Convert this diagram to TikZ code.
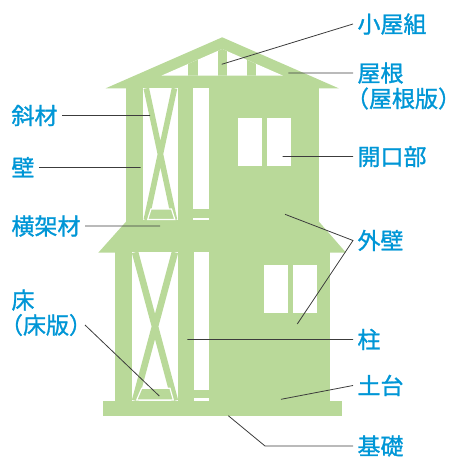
\documentclass[tikz,border=0pt]{standalone}
\usepackage{fontspec}
\usepackage{tikz}
\usetikzlibrary{positioning}
\newfontfamily\jpfont[FakeBold=1.2]{Noto Sans CJK JP}
\definecolor{wood}{RGB}{185,217,153}
\definecolor{tagblue}{RGB}{0,150,214}
\definecolor{leader}{RGB}{60,60,60}

\tikzset{
    part/.style={font=\jpfont\fontsize{23}{27}\selectfont, text=tagblue,
        inner sep=2pt, outer sep=2.5pt, text height=19.1pt, text depth=1.6pt},
    lead/.style={draw=leader, line width=0.8pt},
    brace/.style={draw=wood, line width=6.6pt},
    plate/.style={fill=wood, draw=white, line width=1.2pt},
}

\begin{document}
\begin{tikzpicture}[x=1pt, y=-1pt]
    \useasboundingbox (0,0) rectangle (448,457);

    % frame body
    \fill[wood] (105.7,88.3) -- (222.2,37.3) -- (338.7,88.3) -- cycle;
    \fill[wood] (126,88) rectangle (319,222);
    \fill[wood] (126,221.7) -- (319,221.7) -- (346,252.7) -- (98.3,252.7) -- cycle;
    \fill[wood] (115,252) rectangle (330,401);
    \fill[wood] (103.3,400.7) rectangle (341.7,415.7);

    % roof truss
    \begin{scope}
        \clip (161.3,75.7) -- (222.2,49) -- (283.1,75.7) -- cycle;
        \fill[white] (150,40) rectangle (300,76);
        \foreach \x in {193,222.2,251.4}
            \fill[wood] (\x-4.7,40) rectangle (\x+4.7,76);
    \end{scope}

    % upper floor
    \fill[white] (143.3,88.3) rectangle (177.5,220);
    \begin{scope}
        \clip (143.3,88.3) rectangle (177.5,220);
        \draw[brace, line width=5.6pt] (146.3,88.3) -- (174.5,220) (174.5,88.3) -- (146.3,220);
    \end{scope}
    \filldraw[plate] (147.7,219.4) -- (151,209) -- (171.5,209) -- (174.8,219.4) -- cycle;
    \fill[white] (193.3,88.3) rectangle (209,220);
    \fill[wood] (193.3,209) rectangle (209,218.3);
    \fill[white] (237.7,117.7) rectangle (261.7,166);
    \fill[white] (267,117.7) rectangle (291,166);

    % lower floor
    \fill[white] (131.7,252.3) rectangle (178.3,400.7);
    \begin{scope}
        \clip (131.7,252.3) rectangle (178.3,400.7);
        \draw[brace] (135.1,252.3) -- (174.9,400.7) (174.9,252.3) -- (135.1,400.7);
    \end{scope}
    \filldraw[plate] (136.7,400) -- (141.7,388.3) -- (170,388.3) -- (173.3,400) -- cycle;
    \fill[white] (194,252.3) rectangle (209.3,400.7);
    \fill[wood] (194,390) rectangle (209.3,398.3);
    \fill[white] (264,265) rectangle (288.3,312.7);
    \fill[white] (293,265) rectangle (317,312.7);

    % points on the frame
    \coordinate (truss) at (221.7,64.3);
    \coordinate (roof) at (288.3,73);
    \coordinate (window) at (282.7,156.5);
    \coordinate (wallup) at (285,214.3);
    \coordinate (walldown) at (297.3,324);
    \coordinate (post) at (187.3,339.5);
    \coordinate (sill) at (281,399.3);
    \coordinate (base) at (228.3,415.7);
    \coordinate (basebend) at (265,446);
    \coordinate (brace) at (150,115.5);
    \coordinate (wall) at (140.7,167.5);
    \coordinate (beam) at (160,226);
    \coordinate (floor) at (159.3,396);

    % labels
    \node[part, anchor=west] (koyagumi) at (353,24) {小屋組};
    \node[part, anchor=west] (yane) at (353,73) {屋根};
    \node[part, anchor=west] (yaneban) at (353,98.5) {\kern-.5em（屋根版）};
    \node[part, anchor=west] (kaikoubu) at (353,156.5) {開口部};
    \node[part, anchor=west] (gaiheki) at (353,240.5) {外壁};
    \node[part, anchor=west] (hashira) at (353,339.5) {柱};
    \node[part, anchor=west] (dodai) at (353,385.5) {土台};
    \node[part, anchor=west] (kiso) at (353,446) {基礎};
    \node[part, anchor=west] (shazai) at (7,115.5) {斜材};
    \node[part, anchor=west] (kabe) at (7,167.5) {壁};
    \node[part, anchor=west] (oukazai) at (7,226) {横架材};
    \node[part, anchor=west] (yuka) at (7,300) {床};
    \node[part, anchor=west] (yukaban) at (7,325) {\kern-.5em（床版）\kern-.5em};

    \draw[lead] (koyagumi.west) to (truss)
        (yane.west) to (roof)
        (kaikoubu.west) to (window)
        (wallup) to (gaiheki.west) to (walldown)
        (hashira.west) to (post)
        (dodai.west) to (sill)
        (kiso.west) to (basebend) to (base);
    \draw[lead] (shazai.east) to (brace)
        (kabe.east) to (wall)
        (oukazai.east) to (beam)
        (yukaban.east) to (floor);
\end{tikzpicture}
\end{document}
